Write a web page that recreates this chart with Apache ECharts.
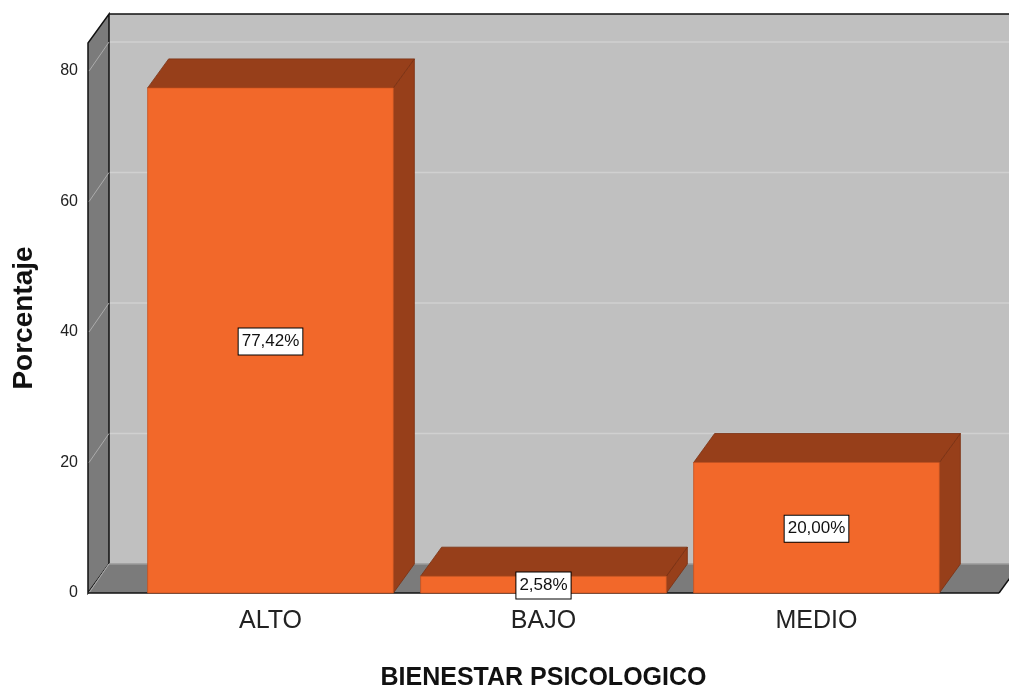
<!DOCTYPE html>
<html>
<head>
<meta charset="utf-8">
<script src="https://cdn.jsdelivr.net/npm/echarts@6/dist/echarts.min.js"></script>
<style>
  html, body { margin: 0; padding: 0; background: #fff; }
  #chart { width: 1009px; height: 689px; }
</style>
</head>
<body>
<div id="chart"></div>
<script>
// data
const categories = ['ALTO', 'BAJO', 'MEDIO'];
const percentages = [77.42, 2.58, 20.00];
const yTicks = [0, 20, 40, 60, 80];

// 3D look
const DX = 21, DY = -29, PAD = 46;
const FONT = 'Liberation Sans';

function fmt(v) { return v.toFixed(2).replace('.', ',') + '%'; }

// walls + floor
function renderFrame(params, api) {
  const cs = params.coordSys;
  const x0 = cs.x - PAD, x1 = cs.x + cs.width + PAD;
  const yb = api.coord([0, 0])[1];
  const yt = cs.y;
  const kids = [];
  // back wall
  kids.push({ type: 'rect', shape: { x: x0 + DX, y: yt + DY, width: x1 - x0 + 40, height: yb - yt },
    style: { fill: '#c0c0c0' } });
  // grid lines on back wall
  yTicks.forEach(v => {
    const y = api.coord([0, v])[1];
    if (v > 0) kids.push({ type: 'line', shape: { x1: x0 + DX, y1: y + DY, x2: x1 + 40, y2: y + DY },
      style: { stroke: '#d0d0d0', lineWidth: 1.5 } });
  });
  // left side wall
  kids.push({ type: 'polygon', shape: { points: [[x0, yb], [x0, yt], [x0 + DX, yt + DY], [x0 + DX, yb + DY]] },
    style: { fill: '#7b7b7b', stroke: '#111', lineWidth: 1.5 } });
  yTicks.forEach(v => {
    const y = api.coord([0, v])[1];
    kids.push({ type: 'line', shape: { x1: x0 + 1, y1: y, x2: x0 + DX, y2: y + DY },
      style: { stroke: '#ababab', lineWidth: 1 } });
  });
  // floor
  kids.push({ type: 'polygon', shape: { points: [[x0, yb], [x1, yb], [x1 + DX, yb + DY], [x0 + DX, yb + DY]] },
    style: { fill: '#7b7b7b' } });
  kids.push({ type: 'line', shape: { x1: x0 + DX, y1: yb + DY, x2: x1 + DX + 20, y2: yb + DY },
    style: { stroke: '#9a9a9a', lineWidth: 1.5 } });
  kids.push({ type: 'line', shape: { x1: x0 + 1, y1: yb, x2: x0 + DX, y2: yb + DY },
    style: { stroke: '#ababab', lineWidth: 1 } });
  kids.push({ type: 'line', shape: { x1: x1, y1: yb, x2: x1 + DX, y2: yb + DY },
    style: { stroke: '#111', lineWidth: 1.5 } });
  kids.push({ type: 'line', shape: { x1: x0, y1: yb, x2: x1, y2: yb },
    style: { stroke: '#111', lineWidth: 1.5 } });
  // top edge of back wall
  kids.push({ type: 'line', shape: { x1: x0 + DX, y1: yt + DY, x2: x1 + 40, y2: yt + DY },
    style: { stroke: '#111', lineWidth: 1.5 } });
  return { type: 'group', children: kids };
}

// 3D bars
function renderBar(params, api) {
  const c = api.value(0), v = api.value(1);
  const top = api.coord([c, v]);
  const base = api.coord([c, 0]);
  const bw = api.size([1, 0])[0] * 0.9;
  const xa = top[0] - bw / 2, xb = top[0] + bw / 2;
  const yt = top[1], yb = base[1];
  return {
    type: 'group',
    children: [
      { type: 'polygon', shape: { points: [[xb, yt], [xb + DX, yt + DY], [xb + DX, yb + DY], [xb, yb]] },
        style: { fill: '#973f1a', stroke: '#7a3012', lineWidth: 0.8 } },
      { type: 'polygon', shape: { points: [[xa, yt], [xb, yt], [xb + DX, yt + DY], [xa + DX, yt + DY]] },
        style: { fill: '#973f1a', stroke: '#7a3012', lineWidth: 0.8 } },
      { type: 'rect', shape: { x: xa, y: yt, width: bw, height: yb - yt },
        style: { fill: '#f2682a', stroke: '#c4521f', lineWidth: 0.8 } },
      { type: 'text', x: top[0], y: (yt + yb) / 2 + 1,
        style: { text: fmt(v), fill: '#111', font: '17px ' + FONT, align: 'center', verticalAlign: 'middle',
          backgroundColor: '#fff', borderColor: '#000', borderWidth: 1, padding: [5, 3, 4, 3] } }
    ]
  };
}

const chart = echarts.init(document.getElementById('chart'));
chart.setOption({
  animation: false,
  textStyle: { fontFamily: FONT },
  grid: { left: 134, right: 56, top: 43, bottom: 96, outerBoundsMode: 'none', containLabel: false },
  xAxis: {
    type: 'category',
    data: categories,
    name: 'BIENESTAR PSICOLOGICO',
    nameLocation: 'middle',
    nameGap: 73,
    nameTextStyle: { fontSize: 25, fontWeight: 'bold', color: '#111', fontFamily: FONT },
    axisLine: { show: false },
    axisTick: { show: false },
    axisLabel: { fontSize: 25, color: '#222', margin: 16, fontFamily: FONT }
  },
  yAxis: {
    type: 'value',
    min: 0,
    max: 84.3,
    interval: 20,
    name: 'Porcentaje',
    nameLocation: 'middle',
    nameGap: 96,
    nameTextStyle: { fontSize: 28, fontWeight: 'bold', color: '#111', fontFamily: FONT },
    axisLine: { show: false },
    axisTick: { show: false },
    splitLine: { show: false },
    axisLabel: { showMaxLabel: false, fontSize: 16, color: '#222', margin: 56, fontFamily: FONT,
      formatter: v => yTicks.includes(v) ? String(v) : '' }
  },
  series: [
    { type: 'custom', data: [[0, 0]], renderItem: renderFrame, z: 1, silent: true, clip: false },
    { type: 'custom', data: categories.map((c, i) => [i, percentages[i]]), renderItem: renderBar, z: 2, clip: false }
  ]
});
</script>
</body>
</html>
